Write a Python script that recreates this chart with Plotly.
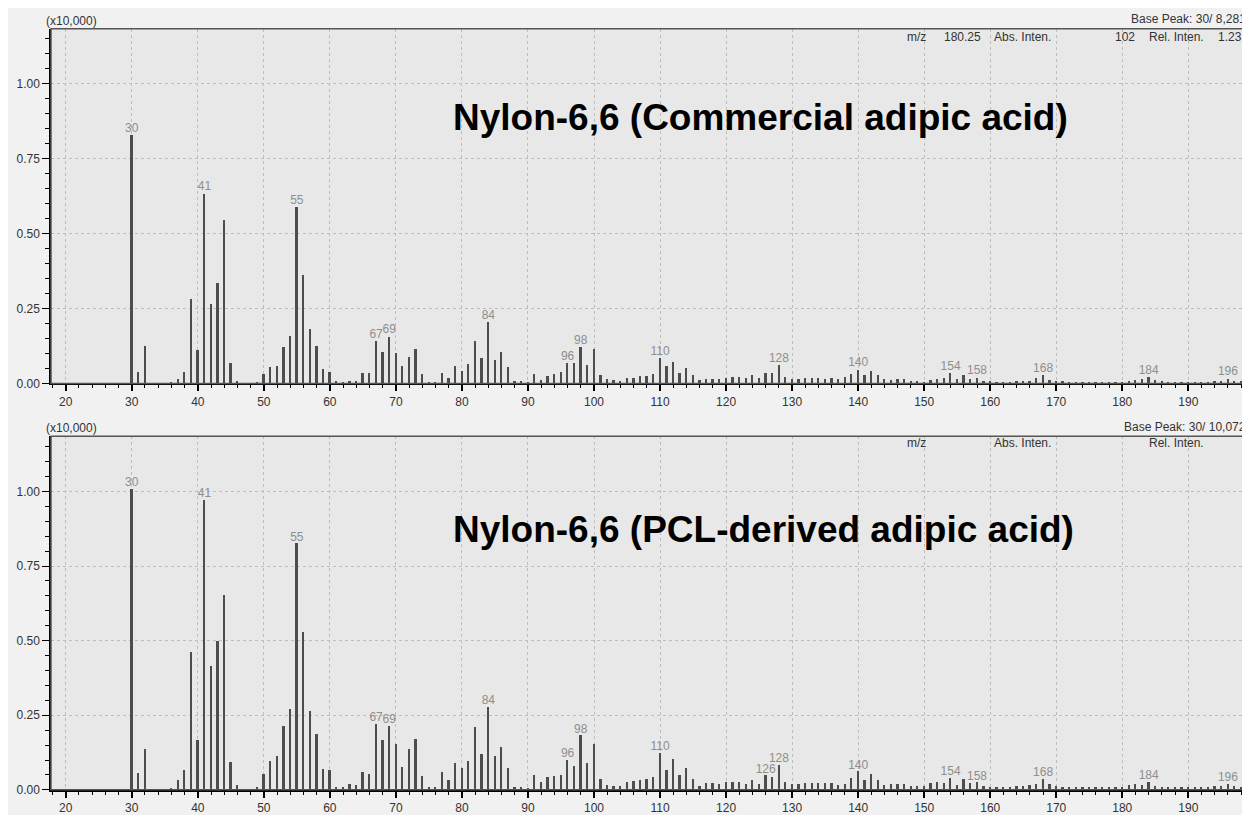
import plotly.graph_objects as go

# ---------------- data ----------------
MZ = list(range(30, 199))

INT_COMMERCIAL = [
    0.828, 0.039, 0.125, 0, 0, 0, 0.004, 0.017, 0.039, 0.283,
    0.112, 0.634, 0.267, 0.336, 0.546, 0.069, 0.010, 0, 0, 0.005,
    0.031, 0.055, 0.058, 0.121, 0.159, 0.588, 0.362, 0.182, 0.125, 0.048,
    0.039, 0.008, 0.004, 0.010, 0.010, 0.034, 0.034, 0.143, 0.107, 0.157,
    0.102, 0.060, 0.090, 0.116, 0.033, 0.007, 0.003, 0.037, 0.020, 0.060,
    0.043, 0.064, 0.141, 0.086, 0.204, 0.080, 0.107, 0.056, 0.008, 0.008,
    0.003, 0.033, 0.013, 0.025, 0.033, 0.040, 0.068, 0.069, 0.122, 0.062,
    0.114, 0.028, 0.014, 0.012, 0.010, 0.018, 0.018, 0.025, 0.025, 0.031,
    0.086, 0.058, 0.072, 0.036, 0.053, 0.028, 0.011, 0.017, 0.017, 0.014,
    0.019, 0.022, 0.023, 0.019, 0.028, 0.019, 0.036, 0.034, 0.061, 0.023,
    0.017, 0.014, 0.019, 0.019, 0.019, 0.017, 0.019, 0.017, 0.021, 0.031,
    0.047, 0.028, 0.042, 0.029, 0.014, 0.012, 0.014, 0.017, 0.010, 0.010,
    0.006, 0.012, 0.017, 0.020, 0.034, 0.016, 0.030, 0.016, 0.020, 0.010,
    0.008, 0.006, 0.007, 0.007, 0.008, 0.008, 0.010, 0.019, 0.029, 0.012,
    0.010, 0.008, 0.006, 0.007, 0.006, 0.006, 0.007, 0.006, 0.007, 0.006,
    0.007, 0.010, 0.012, 0.014, 0.023, 0.012, 0.008, 0.006, 0.006, 0.005,
    0.006, 0.006, 0.007, 0.006, 0.008, 0.010, 0.017, 0.010, 0.008,
]

INT_PCL = [
    1.007, 0.055, 0.135, 0, 0, 0, 0.006, 0.033, 0.066, 0.460,
    0.166, 0.971, 0.415, 0.498, 0.653, 0.092, 0.014, 0, 0, 0.009,
    0.053, 0.096, 0.111, 0.214, 0.269, 0.825, 0.528, 0.264, 0.186, 0.070,
    0.066, 0.009, 0.009, 0.019, 0.014, 0.059, 0.053, 0.221, 0.166, 0.213,
    0.152, 0.075, 0.135, 0.169, 0.045, 0.010, 0.010, 0.058, 0.032, 0.089,
    0.071, 0.097, 0.210, 0.120, 0.277, 0.111, 0.144, 0.071, 0.010, 0.010,
    0.007, 0.050, 0.024, 0.041, 0.044, 0.049, 0.100, 0.080, 0.182, 0.089,
    0.153, 0.037, 0.014, 0.011, 0.011, 0.024, 0.028, 0.031, 0.037, 0.041,
    0.122, 0.066, 0.102, 0.050, 0.072, 0.037, 0.011, 0.022, 0.022, 0.020,
    0.024, 0.024, 0.027, 0.020, 0.031, 0.020, 0.048, 0.042, 0.083, 0.027,
    0.018, 0.020, 0.022, 0.022, 0.022, 0.022, 0.022, 0.016, 0.019, 0.039,
    0.061, 0.031, 0.053, 0.031, 0.016, 0.019, 0.019, 0.019, 0.013, 0.013,
    0.011, 0.022, 0.024, 0.022, 0.039, 0.017, 0.035, 0.022, 0.024, 0.013,
    0.010, 0.008, 0.010, 0.010, 0.012, 0.012, 0.016, 0.019, 0.035, 0.019,
    0.013, 0.010, 0.008, 0.008, 0.008, 0.008, 0.008, 0.008, 0.008, 0.008,
    0.010, 0.016, 0.019, 0.016, 0.027, 0.013, 0.010, 0.008, 0.008, 0.008,
    0.008, 0.008, 0.008, 0.010, 0.012, 0.013, 0.018, 0.013, 0.010,
]

LABELS_COMMERCIAL = [30, 41, 55, 67, 69, 84, 96, 98, 110, 128, 140, 154, 158, 168, 184, 196]
LABELS_PCL = [30, 41, 55, 67, 69, 84, 96, 98, 110, 126, 128, 140, 154, 158, 168, 184, 196]

TITLE_TOP = "Nylon-6,6 (Commercial adipic acid)"
TITLE_BOT = "Nylon-6,6 (PCL-derived adipic acid)"
BASE_TOP = "Base Peak: 30/ 8,281"
BASE_BOT = "Base Peak: 30/ 10,072"
X_TICKS = list(range(20, 200, 10))
Y_TICKS = [0, 0.25, 0.5, 0.75, 1.0]

# ---------------- layout helpers ----------------
# the page body adds an 8 px margin; the figure fills the rest of the 1250x815 window
OFF = 8
W, H = 1250 - OFF, 815 - OFF
def px(x):
    return (x - OFF) / W
def py(y):
    return 1 - (y - OFF) / H

FONT = "Liberation Sans, Arial, sans-serif"
BAR_COLOR = "#4d4d4d"
LABEL_COLOR = "#8e8e8e"
TEXT_COLOR = "#333333"

fig = go.Figure()

panels = [
    ("x", "y", INT_COMMERCIAL, LABELS_COMMERCIAL),
    ("x2", "y2", INT_PCL, LABELS_PCL),
]
for xa, ya, vals, labs in panels:
    fig.add_trace(go.Bar(x=MZ, y=vals, width=0.27, marker=dict(color=BAR_COLOR, line=dict(width=0)),
                         xaxis=xa, yaxis=ya, showlegend=False, hoverinfo="x+y"))
    fig.add_trace(go.Scatter(x=labs, y=[vals[MZ.index(m)] for m in labs], text=[str(m) for m in labs],
                             mode="text", textposition="top center",
                             textfont=dict(family=FONT, size=12, color=LABEL_COLOR),
                             xaxis=xa, yaxis=ya, showlegend=False, hoverinfo="skip", cliponaxis=False))

x_dom = [px(51), px(1246.7)]
x_range = [17.77, 198.84]

def xaxis_cfg(anchor):
    return dict(domain=x_dom, range=x_range, anchor=anchor, tickvals=X_TICKS,
                showline=True, linecolor="black", linewidth=2,
                ticks="outside", ticklen=6, tickwidth=1.5, tickcolor="black",
                tickfont=dict(family=FONT, size=12, color=TEXT_COLOR),
                showgrid=True, gridcolor="#bdbdbd", gridwidth=1, griddash="3px,3px",
                minor=dict(dtick=2, tick0=0, ticks="outside", ticklen=3, tickcolor="black", tickwidth=1.2, showgrid=False),
                zeroline=False, fixedrange=True)

def yaxis_cfg(anchor, dom, top):
    return dict(domain=dom, range=[0, top], anchor=anchor, tickvals=Y_TICKS, tickformat=".2f",
                showline=True, linecolor="black", linewidth=1.5,
                ticks="outside", ticklen=7, tickwidth=1.2, tickcolor="black",
                tickfont=dict(family=FONT, size=12, color=TEXT_COLOR),
                showgrid=True, gridcolor="#bdbdbd", gridwidth=1, griddash="3px,3px",
                minor=dict(dtick=0.05, tick0=0, ticks="outside", ticklen=4, tickcolor="black", tickwidth=1.2, showgrid=False),
                zeroline=False, fixedrange=True)

shapes = [
    dict(type="rect", xref="x domain", yref="y domain", x0=0, x1=1, y0=0, y1=1,
         line=dict(color="#555555", width=1.5), layer="above"),
    dict(type="rect", xref="x2 domain", yref="y2 domain", x0=0, x1=1, y0=0, y1=1,
         line=dict(color="#555555", width=1.5), layer="above"),
]

def ann(text, x, y, size=12, xanchor="left", color=TEXT_COLOR, bold=False):
    return dict(text=f"<b>{text}</b>" if bold else text, x=px(x), y=py(y), xref="paper", yref="paper",
                xanchor=xanchor, yanchor="middle", showarrow=False,
                font=dict(family=FONT, size=size, color=color))

annotations = [
    ann("(x10,000)", 44, 21),
    ann(BASE_TOP, 1248, 19, xanchor="right"),
    ann("m/z", 905, 37), ann("180.25", 942, 37), ann("Abs. Inten.", 992, 37),
    ann("102", 1113, 37), ann("Rel. Inten.", 1147, 37), ann("1.23", 1244, 37, xanchor="right"),
    ann(TITLE_TOP, 451, 118, size=37, color="black", bold=True),
    ann("(x10,000)", 44, 432),
    ann(BASE_BOT, 1248, 431, xanchor="right"),
    ann("m/z", 905, 447), ann("Abs. Inten.", 992, 447), ann("Rel. Inten.", 1147, 447),
    ann(TITLE_BOT, 451, 534, size=37, color="black", bold=True),
]

fig.update_layout(
    width=W, height=H, autosize=False,
    margin=dict(l=0, r=0, t=0, b=0, pad=0),
    paper_bgcolor="#f1f1f1", plot_bgcolor="#e8e8e8",
    font=dict(family=FONT, color=TEXT_COLOR),
    xaxis=xaxis_cfg("y"),
    yaxis=yaxis_cfg("x", [py(386.7), py(29)], 1.183),
    xaxis2=xaxis_cfg("y2"),
    yaxis2=yaxis_cfg("x2", [py(796.7), py(440)], 1.185),
    shapes=shapes, annotations=annotations,
    showlegend=False, bargap=0,
)

fig.write_html("out.html")
